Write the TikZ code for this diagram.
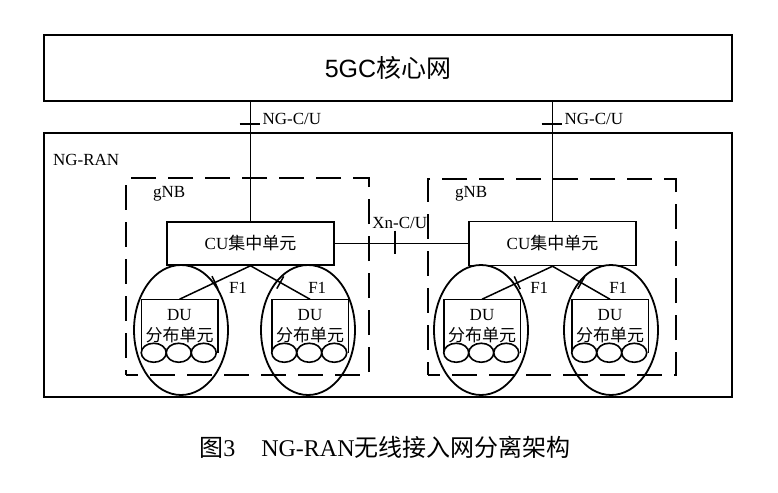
\documentclass[tikz,border=0pt]{standalone}
\usepackage{fontspec}
\setmainfont{Liberation Serif}
\newfontfamily\cjk{Noto Sans CJK SC}
\newfontfamily\hei{Liberation Sans}
\usepackage{tikz}
\usetikzlibrary{shapes}
\usetikzlibrary{calc}
\usetikzlibrary{positioning, fit, arrows.meta}

\begin{document}
\begin{tikzpicture}[x=1pt, y=-1pt, line width=1.5pt,
        unit/.style={rectangle, draw, inner sep=0pt},
        gnb/.style={rectangle, draw, line width=1.6pt, dash pattern=on 25pt off 12pt, dash phase=13pt},
        cellgroup/.style={ellipse, draw, line width=1.8pt, minimum width=94pt, minimum height=130pt, inner sep=0pt},
        cell/.style={ellipse, draw, fill=white, line width=1.6pt, minimum width=25pt, minimum height=19pt, inner sep=0pt},
        tick/.style={line width=2pt},
        txt/.style={font=\fontsize{17}{21}\selectfont}]
                \useasboundingbox (0,0) rectangle (778,492);

                % core network and RAN
                \node [unit, line width=2.8pt, minimum width=688pt, minimum height=66pt, font=\hei\fontsize{25}{30}\selectfont] (core) at (388,68) {5GC{\cjk 核心网}};
                \node [unit, minimum width=688pt, minimum height=264pt] (ran) at (388,265) {};
                \node [txt, anchor=west] (ranlabel) at (49,160) {NG-RAN};

                % two gNBs
                \node [gnb, minimum width=243pt, minimum height=197pt] (gnbL) at (247.5,276.5) {};
                \node [gnb, minimum width=248pt, minimum height=196pt] (gnbR) at (552,277) {};
                \node [txt, anchor=west] (gnbLlabel) at (149,194) {gNB};
                \node [txt, anchor=west] (gnbRlabel) at (451,194) {gNB};

                \node [unit, txt, minimum width=167pt, minimum height=43pt] (cuL) at (250.5,243.5) {CU{\cjk 集中单元}};
                \node [unit, txt, minimum width=167pt, minimum height=44pt] (cuR) at (552.5,243.5) {CU{\cjk 集中单元}};

                \node [cellgroup] (grpLa) at (181,330) {};
                \node [cellgroup] (grpLb) at (308,330) {};
                \node [cellgroup] (grpRa) at (481,330) {};
                \node [cellgroup] (grpRb) at (611,330) {};

                % DU boxes, open at the bottom, with three cells each
                \foreach \d/\x in {La/179.5, Lb/310, Ra/482, Rb/610} {
                    \node [txt, align=center, minimum width=75pt, minimum height=52pt, inner sep=0pt] (du\d) at (\x,326) {DU\\{\cjk 分布单元}};
                    \draw (du\d.south west) -- (du\d.north west) -- (du\d.north east) -- (du\d.south east);
                    \foreach \k in {1,2,3}
                        \node [cell] (cell\d\k) at ($(du\d.south west)+(25*\k-12.5,0)$) {};
                }

                % NG interfaces
                \draw (cuL.north) -- (cuL.north |- core.south);
                \draw (cuR.north) -- (cuR.north |- core.south);
                \path (cuL.north) ++(0,-97) coordinate (ngL);
                \path (cuR.north) ++(0,-97) coordinate (ngR);
                \draw [tick] ([xshift=-11pt]ngL) -- ([xshift=9pt]ngL);
                \draw [tick] ([xshift=-11pt]ngR) -- ([xshift=9pt]ngR);
                \node [txt, anchor=west] (ngLlabel) at ([xshift=8pt, yshift=5pt]ngL) {NG-C/U};
                \node [txt, anchor=west] (ngRlabel) at ([xshift=8pt, yshift=5pt]ngR) {NG-C/U};

                % Xn between the CUs
                \draw (cuL.east) -- (cuR.west);
                \coordinate (xn) at ($(cuL.east)!0.45!(cuR.west)$);
                \draw ([yshift=13pt]xn) -- ([yshift=-10pt]xn);
                \node [txt] (xnlabel) at ([xshift=5pt, yshift=21pt]xn) {Xn-C/U};

                % F1 from CU to DU
                \foreach \c/\d/\dx in {L/La/23, L/Lb/37, R/Ra/22, R/Rb/37} {
                    \draw (cu\c.south) -- (du\d.north);
                    \coordinate (m\d) at ($(cu\c.south)!0.5!(du\d.north)$);
                    \draw ($(m\d)!7pt!90:(du\d.north)$) -- ($(m\d)!7pt!-90:(du\d.north)$);
                    \node [txt] (f1\d) at ($(m\d)+(\dx,5.5)$) {F1};
                }

                \node [font=\fontsize{24}{28}\selectfont] (caption) at (385,447) {{\cjk 图}3\hspace{26pt}NG-RAN{\cjk 无线接入网分离架构}};
\end{tikzpicture}
\end{document}
